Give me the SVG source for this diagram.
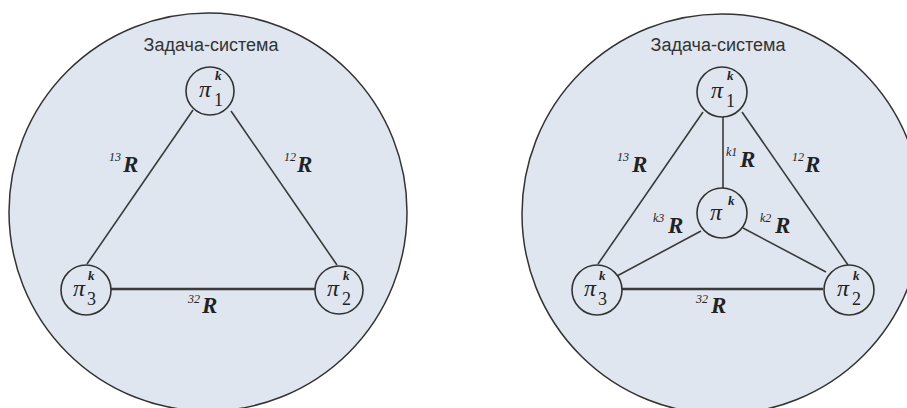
<svg xmlns="http://www.w3.org/2000/svg" width="907" height="408" viewBox="0 0 907 408">
<style>
.bg{fill:#ffffff}
.big{fill:#dfe6f0;stroke:#333;stroke-width:1.5}
.node{fill:#dfe6f0;stroke:#333;stroke-width:1.6}
.edge{stroke:#3a3a3a;stroke-width:1.6;fill:none}
.thick{stroke-width:2.4}
.title{font-family:"Liberation Sans",Arial,sans-serif;font-size:18px;fill:#333;text-anchor:middle}
.pi{font-family:"Liberation Serif","Times New Roman",serif;font-style:italic;font-size:24px;fill:#222}
.sup{font-family:"Liberation Serif","Times New Roman",serif;font-style:italic;font-weight:bold;font-size:13px;fill:#222}
.sub{font-family:"Liberation Serif","Times New Roman",serif;font-size:18px;fill:#222}
.R{font-family:"Liberation Serif","Times New Roman",serif;font-style:italic;font-weight:bold;font-size:23px;fill:#222}
.rs{font-family:"Liberation Serif","Times New Roman",serif;font-style:italic;font-size:12px;fill:#222}
</style>
<rect class="bg" x="0" y="0" width="907" height="408"/>

<!-- Left system -->
<g id="system-left">
  <circle class="big" cx="208" cy="212" r="199"/>
  <text class="title" x="211" y="51">Задача-система</text>
</g>
<!-- Right system -->
<g id="system-right">
  <circle class="big" cx="722" cy="214" r="200"/>
  <text class="title" x="718" y="51">Задача-система</text>
</g>

<g id="connectors">
  <!-- left -->
  <line class="edge" x1="87" y1="264" x2="193" y2="110"/>
  <line class="edge" x1="231" y1="111" x2="337" y2="265"/>
  <line class="edge thick" x1="110" y1="289" x2="315" y2="289"/>
  <!-- right -->
  <line class="edge" x1="598" y1="264" x2="703" y2="112"/>
  <line class="edge" x1="742" y1="112" x2="848" y2="265"/>
  <line class="edge" x1="723" y1="117" x2="723" y2="188"/>
  <line class="edge" x1="701" y1="231" x2="617" y2="276"/>
  <line class="edge" x1="743" y1="228" x2="826" y2="272"/>
  <line class="edge thick" x1="621" y1="289" x2="823" y2="289"/>
  <!-- labels left -->
  <text class="rs" x="109" y="161">13</text><text class="R" x="123" y="172">R</text>
  <text class="rs" x="284" y="161">12</text><text class="R" x="297" y="172">R</text>
  <text class="rs" x="188" y="303">32</text><text class="R" x="202" y="313">R</text>
  <!-- labels right -->
  <text class="rs" x="617" y="161">13</text><text class="R" x="632" y="172">R</text>
  <text class="rs" x="726" y="156">k1</text><text class="R" x="740" y="167">R</text>
  <text class="rs" x="792" y="161">12</text><text class="R" x="805" y="172">R</text>
  <text class="rs" x="653" y="222">k3</text><text class="R" x="668" y="233">R</text>
  <text class="rs" x="760" y="222">k2</text><text class="R" x="775" y="233">R</text>
  <text class="rs" x="696" y="303">32</text><text class="R" x="711" y="313">R</text>
</g>

<g id="L-pi1">
  <circle class="node" cx="210" cy="91" r="24"/>
  <text class="pi" x="199" y="97">π</text><text class="sup" x="215" y="80">k</text><text class="sub" x="214" y="106">1</text>
</g>
<g id="L-pi3">
  <circle class="node" cx="86" cy="290" r="25"/>
  <text class="pi" x="73" y="296">π</text><text class="sup" x="88" y="280">k</text><text class="sub" x="87" y="305">3</text>
</g>
<g id="L-pi2">
  <circle class="node" cx="339" cy="290" r="24"/>
  <text class="pi" x="327" y="296">π</text><text class="sup" x="343" y="280">k</text><text class="sub" x="342" y="305">2</text>
</g>

<g id="R-pi1">
  <circle class="node" cx="722" cy="92" r="25"/>
  <text class="pi" x="711" y="98">π</text><text class="sup" x="727" y="80">k</text><text class="sub" x="726" y="107">1</text>
</g>
<g id="R-pik">
  <circle class="node" cx="722" cy="213" r="25"/>
  <text class="pi" x="710" y="220">π</text><text class="sup" x="728" y="205">k</text>
</g>
<g id="R-pi3">
  <circle class="node" cx="597" cy="290" r="25"/>
  <text class="pi" x="584" y="296">π</text><text class="sup" x="599" y="280">k</text><text class="sub" x="598" y="305">3</text>
</g>
<g id="R-pi2">
  <circle class="node" cx="849" cy="290" r="25"/>
  <text class="pi" x="837" y="296">π</text><text class="sup" x="853" y="280">k</text><text class="sub" x="852" y="305">2</text>
</g>
</svg>
